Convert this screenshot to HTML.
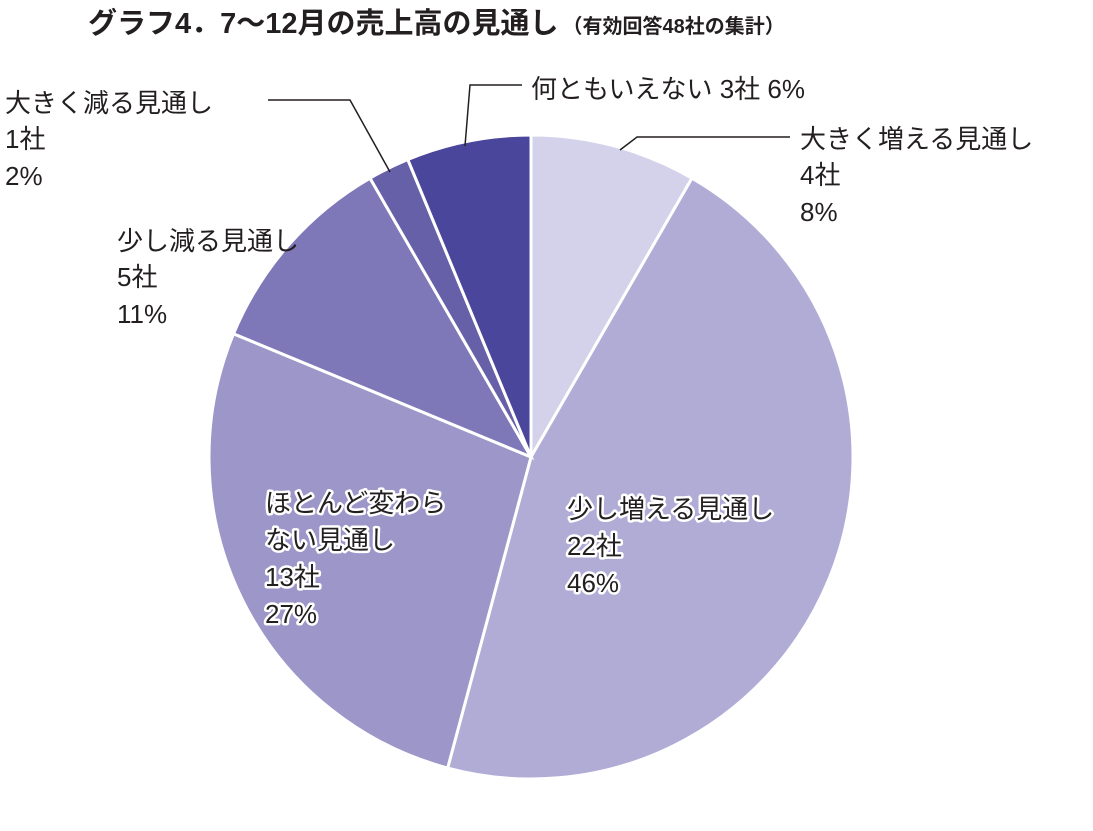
<!DOCTYPE html>
<html><head><meta charset="utf-8"><style>
body{margin:0;background:#fff}
svg{display:block;font-family:"Liberation Sans","Noto Sans CJK JP",sans-serif}
.lbl{font-size:26px;fill:#231f20}
.in{font-size:26px;fill:#231f20;stroke:#fff;stroke-width:5px;paint-order:stroke;stroke-linejoin:round}
</style></head><body>
<svg id="chart" width="1093" height="831" viewBox="0 0 1093 831">
<text x="88" y="33" font-size="29" font-weight="bold" fill="#231f20">グラフ4．7～12月の売上高の見通し<tspan font-size="20" dx="4">（有効回答48社の集計）</tspan></text>
<g id="slices"></g>
<g fill="none" stroke="#231f20" stroke-width="1.5">
<polyline points="465,146 470,85 522,85"/>
<polyline points="620,150 637,137 790,137"/>
<polyline points="268,100 350,100 390,172"/>
</g>
<g>
<text class="lbl" x="531" y="98">何ともいえない  3社  6%</text>
<text class="lbl"><tspan x="800" y="148">大きく増える見通し</tspan><tspan x="800" y="184">4社</tspan><tspan x="800" y="221">8%</tspan></text>
<text class="lbl"><tspan x="5" y="112">大きく減る見通し</tspan><tspan x="5" y="148">1社</tspan><tspan x="5" y="185">2%</tspan></text>
<text class="lbl"><tspan x="117" y="250">少し減る見通し</tspan><tspan x="117" y="286">5社</tspan><tspan x="117" y="323">11%</tspan></text>
<text class="in"><tspan x="265" y="512">ほとんど変わら</tspan><tspan x="265" y="549">ない見通し</tspan><tspan x="265" y="586">13社</tspan><tspan x="265" y="623">27%</tspan></text>
<text class="in"><tspan x="567" y="518">少し増える見通し</tspan><tspan x="567" y="555">22社</tspan><tspan x="567" y="592">46%</tspan></text>
</g>
</svg>
<script>
const categories=["大きく増える見通し","少し増える見通し","ほとんど変わらない見通し","少し減る見通し","大きく減る見通し","何ともいえない"];
const counts=[4,22,13,5,1,3];
const colors=["#d4d2ea","#b0acd6","#9d96c9","#7f78b8","#6660a8","#4a469b"];
const cx=531,cy=457,r=322;
const g=document.getElementById('slices');
const total=counts.reduce((a,b)=>a+b,0);
let a0=0;
counts.forEach((v,i)=>{
  const a1=a0+v/total*2*Math.PI;
  const p=(a)=>[cx+r*Math.sin(a),cy-r*Math.cos(a)];
  const [x0,y0]=p(a0),[x1,y1]=p(a1);
  const large=(a1-a0)>Math.PI?1:0;
  const path=document.createElementNS('http://www.w3.org/2000/svg','path');
  path.setAttribute('d',`M${cx},${cy} L${x0},${y0} A${r},${r} 0 ${large} 1 ${x1},${y1} Z`);
  path.setAttribute('fill',colors[i]);
  path.setAttribute('stroke','#fff');
  path.setAttribute('stroke-width','3');
  
  
  g.appendChild(path);
  a0=a1;
});
</script>
</body></html>
